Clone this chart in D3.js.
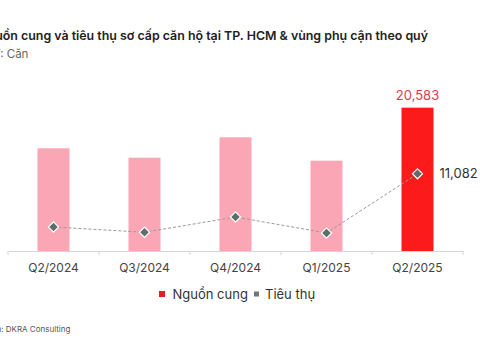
<!DOCTYPE html>
<html><head><meta charset="utf-8">
<script src="https://cdn.jsdelivr.net/npm/d3@7"></script>
<style>body{margin:0;background:#fff}svg{display:block;font-family:Inter,"Open Sans",sans-serif}</style>
</head><body><svg id="c" width="480" height="360"></svg>
<script>
const categories = ["Q2/2024","Q3/2024","Q4/2024","Q1/2025","Q2/2025"];
const supply = [14750, 13400, 16330, 12970, 20583];
const sales = [3450, 2690, 4880, 2590, 11082];
const seriesNames = ["Nguồn cung","Tiêu thụ"];

const svg = d3.select("#c");
const x = d3.scaleBand().domain(categories).range([8,463]).paddingInner(0).paddingOuter(0);
const y = d3.scaleLinear().domain([0,25000]).range([251,76.9]);
const bw = 32;
const cx = d => x(d) + x.bandwidth()/2;

svg.append("text").attr("x",428).attr("y",40).attr("text-anchor","end").attr("font-size",12.4).attr("font-weight",600).attr("fill","#222")
  .text("Nguồn cung và tiêu thụ sơ cấp căn hộ tại TP. HCM & vùng phụ cận theo quý");
svg.append("text").attr("x",-23).attr("y",58).attr("font-size",11.5).attr("fill","#666").text("ĐVT: Căn");

svg.selectAll("rect.bar").data(categories).join("rect").attr("class","bar")
  .attr("x",d=>cx(d)-bw/2).attr("width",bw)
  .attr("y",(d,i)=>y(supply[i])).attr("height",(d,i)=>y(0)-y(supply[i]))
  .attr("fill",(d,i)=>i===categories.length-1?"#fd1a1a":"#fba6b5");

const ax = svg.append("g").attr("transform","translate(0,251)")
  .call(d3.axisBottom(x).tickSize(0).tickPadding(12));
ax.select(".domain").attr("stroke","#d6d6d6");
ax.selectAll("text").attr("font-size",12).attr("fill","#444").attr("font-family","Inter,sans-serif");
const edges = categories.map(c=>x(c)).concat([x.range()[1]]);
svg.append("g").selectAll("line").data(edges).join("line")
  .attr("x1",d=>d).attr("x2",d=>d).attr("y1",251).attr("y2",255).attr("stroke","#d6d6d6");

svg.append("path").datum(categories)
  .attr("d",d3.line().x(d=>cx(d)).y((d,i)=>y(sales[i])))
  .attr("fill","none").attr("stroke","#9a9a9a").attr("stroke-width",1).attr("stroke-dasharray","3,2");

svg.selectAll("path.pt").data(categories).join("path").attr("class","pt")
  .attr("d",d3.symbol(d3.symbolSquare,52))
  .attr("transform",(d,i)=>`translate(${cx(d)},${y(sales[i])}) rotate(45)`)
  .attr("fill","#5d6e68").attr("stroke","#fff").attr("stroke-width",1.2);

const last = categories.length-1;
svg.append("text").attr("x",cx(categories[last])).attr("y",y(supply[last])-8).attr("text-anchor","middle")
  .attr("font-size",13).attr("fill","#d9404a").text(d3.format(",")(supply[last]));
svg.append("text").attr("x",cx(categories[last])+22).attr("y",y(sales[last])+4.5)
  .attr("font-size",13).attr("fill","#333").text(d3.format(",")(sales[last]));

const lg = svg.append("g").attr("transform","translate(0,294)");
lg.append("rect").attr("x",159).attr("y",-3).attr("width",6).attr("height",6).attr("fill","#e31e24");
lg.append("text").attr("x",172.5).attr("y",4.5).attr("font-size",13).attr("fill","#333").text(seriesNames[0]);
lg.append("rect").attr("x",254).attr("y",-2.5).attr("width",5).attr("height",5).attr("fill","#6b7a74");
lg.append("text").attr("x",265).attr("y",4.5).attr("font-size",13).attr("fill","#333").text(seriesNames[1]);

svg.append("text").attr("x",-24).attr("y",332).attr("font-size",8).attr("fill","#555").text("Nguồn: DKRA Consulting");
</script></body></html>
